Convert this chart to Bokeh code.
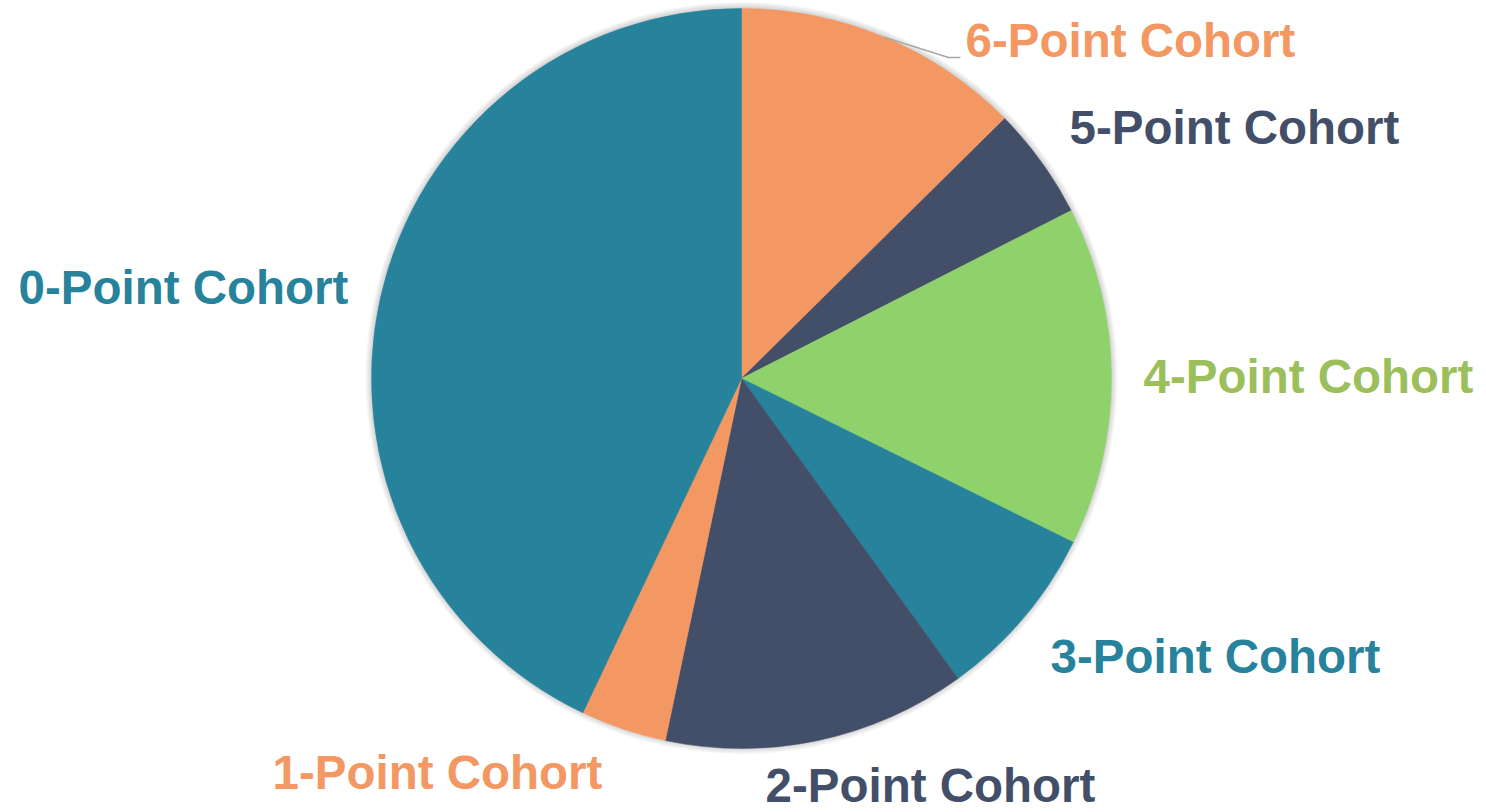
import math
from bokeh.plotting import figure
from bokeh.models import Range1d, ColumnDataSource
from bokeh.core.properties import value
from bokeh.embed import file_html
from bokeh.resources import INLINE

# ---- data ----
categories = ["6-Point Cohort", "5-Point Cohort", "4-Point Cohort", "3-Point Cohort",
              "2-Point Cohort", "1-Point Cohort", "0-Point Cohort"]
shares = [12.6, 4.9, 14.8, 7.75, 13.25, 3.75, 42.95]
slice_colors = ["#F39763", "#434F69", "#8FD16A", "#27829B", "#434F69", "#F39763", "#27829B"]
label_colors = ["#F39763", "#434F69", "#9BBF5A", "#27829B", "#434F69", "#F39763", "#27829B"]

# ---- layout (screen pixel positions of label anchors: left x, baseline y) ----
label_x = [965, 1069, 1143, 1050, 765, 272, 18]
label_y = [57, 144, 393, 673, 802, 789, 304]
BASELINE_SHIFT = -17

W, H = 1486, 812
cx, cy_page, R = 741, 378, 370
cy = H - cy_page

p = figure(width=W, height=H, output_backend="svg", toolbar_location=None,
           x_range=Range1d(0, W), y_range=Range1d(0, H),
           min_border=0, background_fill_color="white", border_fill_color="white")
p.axis.visible = False
p.grid.visible = False
p.outline_line_color = None

# soft shadow
for k in range(1, 8):
    p.circle(x=[cx], y=[cy + 0.5], radius=R + k * 0.9, radius_units="data",
             fill_color="black", fill_alpha=0.022, line_color=None)

total = sum(shares)
starts, ends, mids = [], [], []
acc = 0.0
for s in shares:
    a0 = math.pi / 2 - 2 * math.pi * acc / total
    acc += s
    a1 = math.pi / 2 - 2 * math.pi * acc / total
    starts.append(a0)
    ends.append(a1)
    mids.append((a0 + a1) / 2)

src = ColumnDataSource(dict(start=starts, end=ends, color=slice_colors, cat=categories))
p.wedge(x=cx, y=cy, radius=R, radius_units="data", start_angle="start", end_angle="end",
        direction="clock", fill_color="color", line_color="color", line_width=0.5, source=src)

# leader line for first slice
m = mids[0]
sx, sy = cx + R * math.cos(m), cy + R * math.sin(m)
p.line(x=[sx, 948, 960], y=[sy, H - 57, H - 57], line_color="#A6A6A6", line_width=1.5)

lsrc = ColumnDataSource(dict(x=label_x, y=[H - (v + BASELINE_SHIFT) for v in label_y],
                             t=categories, c=label_colors))
p.text(x="x", y="y", text="t", text_color="c", source=lsrc,
       text_font=value("Liberation Sans"), text_font_style="bold", text_font_size="47.5px",
       text_align="left", text_baseline="alphabetic")

open("out.html", "w").write(file_html(p, INLINE))
